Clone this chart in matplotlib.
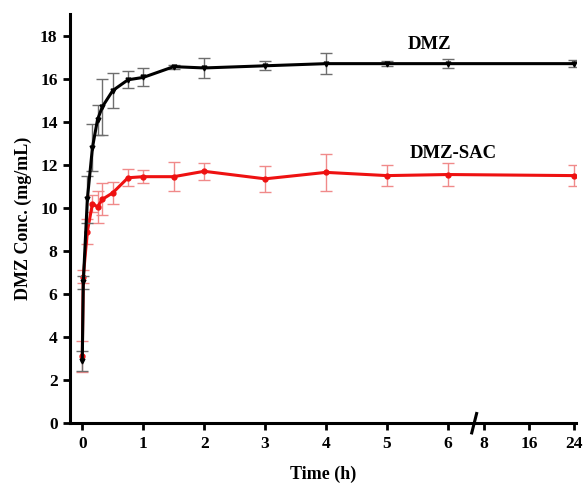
import numpy as np
import matplotlib.pyplot as plt

# dissolution profiles, time in hours
time = [0, 0.0167, 0.083, 0.167, 0.25, 0.33, 0.5, 0.75, 1, 1.5, 2, 3, 4, 5, 6, 24]
dmz = [2.9, 6.55, 10.4, 12.8, 14.1, 14.7, 15.45, 15.95, 16.06, 16.56, 16.5, 16.6, 16.7, 16.7, 16.7, 16.7]
dmz_err = [0.47, 0.3, 1.1, 1.1, 0.7, 1.3, 0.8, 0.4, 0.42, 0.1, 0.47, 0.2, 0.5, 0.1, 0.2, 0.15]
sac = [3.1, 6.8, 8.9, 10.2, 10.05, 10.4, 10.7, 11.4, 11.45, 11.45, 11.7, 11.35, 11.65, 11.5, 11.55, 11.5]
sac_err = [0.7, 0.3, 0.6, 0.4, 0.75, 0.75, 0.5, 0.4, 0.3, 0.67, 0.4, 0.6, 0.85, 0.5, 0.55, 0.5]

xticks = [0, 1, 2, 3, 4, 5, 6, 8, 16, 24]
yticks = [0, 2, 4, 6, 8, 10, 12, 14, 16, 18]

# broken time axis: linear up to 6 h, compressed afterwards
def fwd(x):
    x = np.asarray(x, dtype=float)
    return np.where(x <= 6, x,
                    np.where(x <= 8, 6 + (x - 6) * 0.295, 6.59 + (x - 8) * 0.0925))

def inv(u):
    u = np.asarray(u, dtype=float)
    return np.where(u <= 6, u,
                    np.where(u <= 6.59, 6 + (u - 6) / 0.295, 8 + (u - 6.59) / 0.0925))

plt.rcParams['font.family'] = ['Liberation Serif', 'DejaVu Serif']
plt.rcParams['font.weight'] = 'bold'

fig = plt.figure(figsize=(5.84, 4.87), dpi=100)
ax = fig.add_axes([0.12, 0.131, 0.866, 0.84])
ax.set_xscale('function', functions=(fwd, inv))

ax.errorbar(time, dmz, yerr=dmz_err, color='black', ecolor='#6e6e6e', elinewidth=1,
            capsize=4, capthick=1, lw=2.2, marker='v', ms=3.5, zorder=3)
ax.errorbar(time, sac, yerr=sac_err, color='#ee1111', ecolor='#f08a8a', elinewidth=1,
            capsize=4, capthick=1, lw=2.2, marker='o', ms=3.5, zorder=2)

ax.text(5.7, 17.4, 'DMZ', fontsize=13.5, fontweight='bold', ha='center')
ax.text(6.27, 12.3, 'DMZ-SAC', fontsize=13.5, fontweight='bold', ha='center')

ax.set_xlim(-0.2, 24.3)
ax.set_ylim(0, 19)
ax.set_xticks(xticks)
ax.set_xticklabels([str(t) for t in xticks])
ax.set_yticks(yticks)
ax.minorticks_off()

for s in ['top', 'right']:
    ax.spines[s].set_visible(False)
for s in ['left', 'bottom']:
    ax.spines[s].set_linewidth(2.2)
ax.tick_params(direction='out', length=5, width=2, labelsize=12.5, pad=4)

ax.set_xlabel('Time (h)', fontsize=13, fontweight='bold', labelpad=10)
ax.set_ylabel('DMZ Conc. (mg/mL)', fontsize=13, fontweight='bold', labelpad=6)

# break mark on the time axis
ax.plot([float(inv(6.39)), float(inv(6.47))], [-0.45, 0.45], color='black', lw=2.2,
        clip_on=False, zorder=5)

fig.savefig('out.png', dpi=100)
